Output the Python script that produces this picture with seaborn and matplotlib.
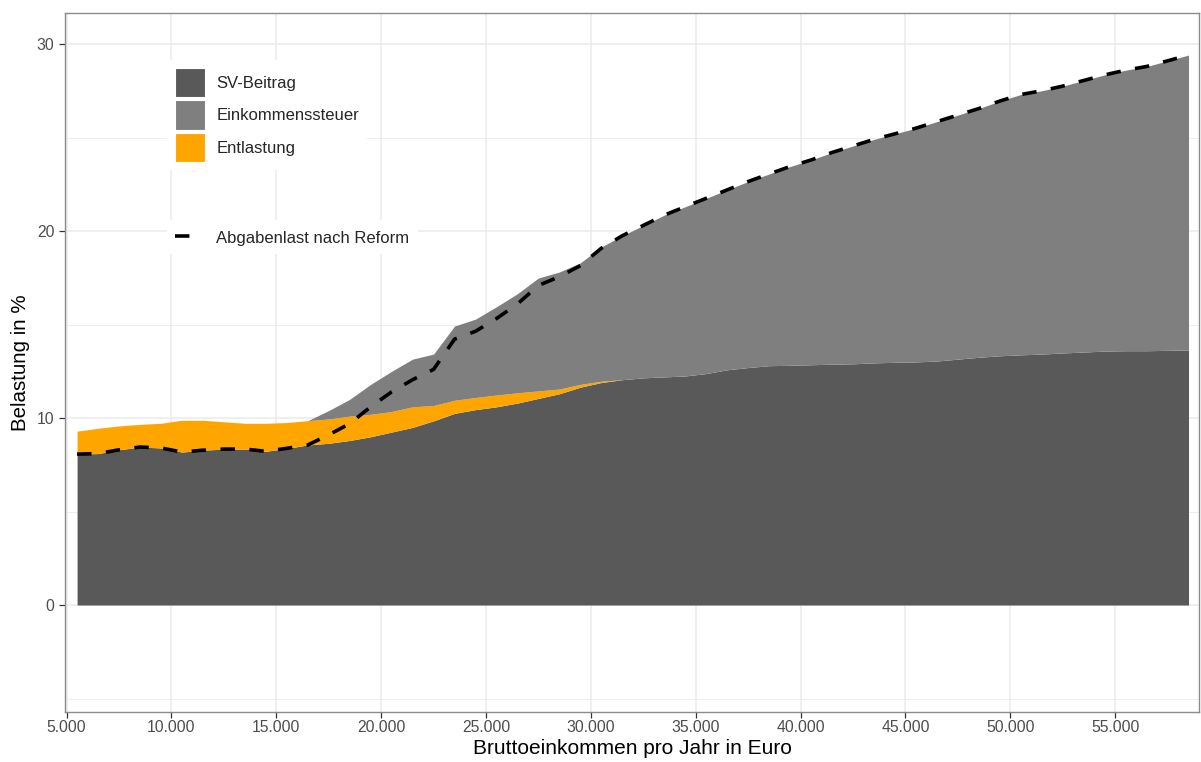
import matplotlib
matplotlib.use("Agg")
import matplotlib.pyplot as plt
import seaborn as sns
import numpy as np
import pandas as pd
from matplotlib.patches import Patch
from matplotlib.lines import Line2D
from matplotlib.ticker import FixedLocator, FuncFormatter

# ---------------- data ----------------
einkommen = [5500, 6500, 7500, 8500, 9500, 10500, 11500, 12500, 13500, 14500,
             15500, 16500, 17500, 18500, 19500, 20500, 21500, 22500, 23500, 24500,
             25500, 26500, 27500, 28500, 29500, 30500, 31500, 32500, 33500, 34500,
             35500, 36500, 37500, 38500, 39500, 40500, 41500, 42500, 43500, 44500,
             45500, 46500, 47500, 48500, 49500, 50500, 51500, 52500, 53500, 54500,
             55500, 56500, 57500, 58500]

sv_beitrag = [8.07, 8.10, 8.30, 8.45, 8.40, 8.18, 8.28, 8.34, 8.34, 8.22,
              8.38, 8.56, 8.65, 8.80, 9.00, 9.25, 9.50, 9.85, 10.25, 10.45,
              10.60, 10.80, 11.05, 11.30, 11.65, 11.90, 12.05, 12.15, 12.20, 12.25,
              12.38, 12.58, 12.70, 12.80, 12.82, 12.85, 12.88, 12.90, 12.95, 12.98,
              13.00, 13.05, 13.15, 13.25, 13.33, 13.38, 13.42, 13.48, 13.53, 13.58,
              13.60, 13.60, 13.62, 13.64]

entlastung = [1.23, 1.35, 1.28, 1.21, 1.32, 1.70, 1.60, 1.46, 1.38, 1.50,
              1.38, 1.30, 1.30, 1.30, 1.20, 1.10, 1.10, 0.82, 0.70, 0.65,
              0.63, 0.55, 0.40, 0.25, 0.15, 0.07, 0.0, 0.0, 0.0, 0.0,
              0.0, 0.0, 0.0, 0.0, 0.0, 0.0, 0.0, 0.0, 0.0, 0.0,
              0.0, 0.0, 0.0, 0.0, 0.0, 0.0, 0.0, 0.0, 0.0, 0.0,
              0.0, 0.0, 0.0, 0.0]

einkommenssteuer = [0.0, 0.0, 0.0, 0.0, 0.0, 0.0, 0.0, 0.0, 0.0, 0.0,
                    0.0, 0.0, 0.45, 0.90, 1.60, 2.15, 2.55, 2.75, 3.97, 4.19,
                    4.72, 5.30, 6.04, 6.26, 6.50, 7.18, 7.70, 8.15, 8.65, 9.05,
                    9.37, 9.62, 9.95, 10.25, 10.63, 10.95, 11.32, 11.65, 11.95, 12.22,
                    12.50, 12.80, 13.05, 13.30, 13.62, 13.92, 14.08, 14.27, 14.52, 14.77,
                    15.00, 15.20, 15.48, 15.77]

x_ticks = [5000, 10000, 15000, 20000, 25000, 30000, 35000, 40000, 45000, 50000, 55000]
y_ticks = [0, 10, 20, 30]
y_minor = [-5, 5, 15, 25]

labels_fill = ["SV-Beitrag", "Einkommenssteuer", "Entlastung"]
label_line = "Abgabenlast nach Reform"
colors = {"SV-Beitrag": "#595959", "Einkommenssteuer": "#7f7f7f", "Entlastung": "#FFA500"}

df = pd.DataFrame({"einkommen": einkommen, "sv": sv_beitrag,
                   "ent": entlastung, "est": einkommenssteuer})
df["lvl1"] = df["sv"]
df["lvl2"] = df["sv"] + df["ent"]
df["lvl3"] = df["lvl2"] + df["est"]
df["nach_reform"] = df["sv"] + df["est"]

# ---------------- style ----------------
sns.set_theme(style="white")
plt.rcParams["font.family"] = ["Liberation Sans", "DejaVu Sans"]

W, H = 1201, 762
fig = plt.figure(figsize=(W / 100, H / 100), dpi=100)
ax = fig.add_axes([65 / W, 1 - 712 / H, (1199 - 65) / W, (712 - 13) / H])
ax.set_facecolor("white")

# grid
ax.set_axisbelow(True)
ax.xaxis.set_major_locator(FixedLocator(x_ticks))
ax.yaxis.set_major_locator(FixedLocator(y_ticks))
ax.yaxis.set_minor_locator(FixedLocator(y_minor))
ax.grid(True, which="major", color="#ebebeb", lw=1.1)
ax.grid(True, which="minor", axis="y", color="#ebebeb", lw=0.6)

# areas
x = df["einkommen"].to_numpy()
ax.fill_between(x, 0, df["lvl1"], color=colors["SV-Beitrag"], lw=0, zorder=2)
ax.fill_between(x, df["lvl1"], df["lvl2"], color=colors["Entlastung"], lw=0, zorder=2)
ax.fill_between(x, df["lvl2"], df["lvl3"], color=colors["Einkommenssteuer"], lw=0, zorder=2)

# dashed line
sns.lineplot(data=df, x="einkommen", y="nach_reform", ax=ax, color="black",
             lw=2.6, zorder=3, legend=False)
ax.lines[-1].set_dashes((4, 4))

ax.set_xlim(4924, 59000)
ax.set_ylim(-5.72, 31.66)

ax.xaxis.set_major_formatter(FuncFormatter(lambda v, p: f"{int(v):,}".replace(",", ".")))
ax.tick_params(axis="both", which="major", length=4, width=0.9, color="#333333",
               labelcolor="#4d4d4d", labelsize=11.3, bottom=True, left=True)
ax.tick_params(axis="x", which="major", pad=2)
ax.tick_params(axis="y", which="major", pad=3.5)
ax.tick_params(axis="y", which="minor", length=0)

for s in ax.spines.values():
    s.set_color("#8c8c8c")
    s.set_linewidth(1.0)
    s.set_zorder(4)

ax.set_xlabel("Bruttoeinkommen pro Jahr in Euro", fontsize=15, color="black", labelpad=3)
ax.set_ylabel("Belastung in %", fontsize=14.8, color="black", labelpad=5)

# legends
fill_handles = [Patch(facecolor=colors[l], edgecolor="white", linewidth=0.8, label=l)
                for l in labels_fill]
leg1 = ax.legend(handles=fill_handles, loc="center left",
                 bbox_to_anchor=(167 / W, 1 - 115 / H), bbox_transform=fig.transFigure,
                 frameon=True, facecolor="white", edgecolor="none", framealpha=1,
                 fontsize=12, handlelength=1.78, handleheight=2.32,
                 handletextpad=0.68, labelspacing=0.2, borderpad=0.5, borderaxespad=0,
                 fancybox=False)
leg1.set_zorder(5)
ax.add_artist(leg1)

line_handle = [Line2D([0], [0], color="black", lw=2.6, dashes=(4, 4), label=label_line)]
leg2 = ax.legend(handles=line_handle, loc="center left",
                 bbox_to_anchor=(167 / W, 1 - 237 / H), bbox_transform=fig.transFigure,
                 frameon=True, facecolor="white", edgecolor="none", framealpha=1,
                 fontsize=12, handlelength=1.3, handleheight=1.2,
                 handletextpad=1.16, borderpad=0.5, borderaxespad=0, fancybox=False)
leg2.set_zorder(5)

fig.savefig("out.png", dpi=100)
